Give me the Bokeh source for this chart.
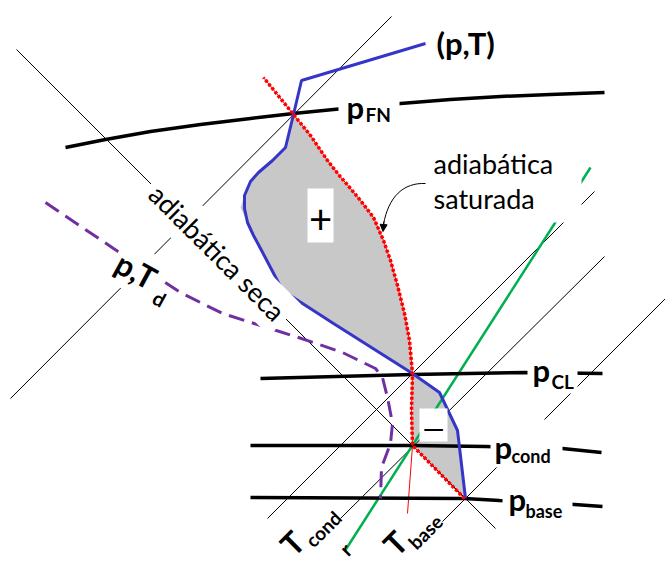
import math
from bokeh.plotting import figure
from bokeh.models import Range1d, Label, Arrow, NormalHead
from bokeh.embed import file_html
from bokeh.resources import INLINE

# ---- schematic data (diagram units = reference pixels, y grows downward) ----
# isobars
pfn_x = [65, 105, 150, 200, 250, 293, 333, 400, 450, 500, 550, 604]
pfn_y = [147, 139, 131, 124, 118, 113, 109, 103, 99, 96, 94, 92]
pcl_x = [260, 412, 524, 602]
pcl_y = [378, 374, 372, 373]
pcond_x = [250, 412, 485, 562, 601]
pcond_y = [445, 445, 446, 448, 452]
pbase_x = [250, 464, 499, 574, 602]
pbase_y = [497, 498, 500, 504, 506]

# isotherms (thin, rising to the right)
isot_xs = [[10, 391], [267, 594], [340, 604], [442, 665]]
isot_ys = [[398, 16], [518, 191], [518, 256], [521, 298]]

# dry adiabat
dry_x = [16, 495]
dry_y = [49, 528]

# saturation mixing ratio line
mix_x = [344, 590]
mix_y = [551, 167]

# environmental sounding (p,T)
env_x = [425, 301, 293, 285, 272, 258, 250, 244, 244, 247, 253, 260, 270, 282, 333, 412, 439, 457, 465]
env_y = [43, 80, 114, 147, 160, 172, 181, 195, 208, 222, 235, 248, 267, 290, 323, 373, 392, 430, 498]

# parcel path: dry from base to condensation, then saturated adiabat upward
parcel_x = [464, 412, 411, 412, 409, 404, 397, 390, 383, 373, 360, 350, 338, 327, 310, 293, 263]
parcel_y = [498, 445, 410, 373, 340, 313, 285, 260, 240, 217, 200, 188, 174, 160, 135, 114, 77]

# continuation of the saturated adiabat below p_cond
sat_low_x = [412, 407]
sat_low_y = [445, 513]

# dew point sounding (p,Td)
dew_x = [45, 113, 180, 222, 260, 298, 342, 375, 382, 387, 392, 390, 381, 380]
dew_y = [202, 248, 292, 313, 325, 337, 352, 368, 377, 397, 423, 443, 467, 498]

# positive area (CAPE) and negative area (CIN)
cape_x = [293, 285, 272, 258, 250, 244, 240, 247, 253, 260, 270, 281, 333, 412,
          409, 404, 397, 390, 383, 373, 360, 350, 338, 327, 310]
cape_y = [114, 147, 160, 172, 181, 195, 207, 222, 235, 248, 267, 292, 323, 373,
          340, 313, 285, 260, 240, 217, 200, 188, 174, 160, 135]
cin_x = [412, 439, 457, 465, 412]
cin_y = [373, 392, 430, 498, 445]

FONT = "Lato"

p = figure(width=665, height=561, x_range=Range1d(0, 665), y_range=Range1d(561, 0),
           output_backend="svg", toolbar_location=None, min_border=0)
p.axis.visible = False
p.grid.visible = False
p.outline_line_color = None
p.background_fill_color = "white"
p.border_fill_color = "white"

# shaded areas
p.patch(cape_x, cape_y, fill_color="#c8c8c8", line_color=None)
p.patch(cin_x, cin_y, fill_color="#c8c8c8", line_color=None)

# thin reference lines
p.multi_line(isot_xs, isot_ys, line_color="black", line_width=1)
p.line(dry_x, dry_y, line_color="black", line_width=1)
p.line(mix_x, mix_y, line_color="#00b050", line_width=2.5)
p.line(sat_low_x, sat_low_y, line_color="red", line_width=1)

# isobars
for xs, ys in [(pfn_x, pfn_y), (pcl_x, pcl_y), (pcond_x, pcond_y), (pbase_x, pbase_y)]:
    p.line(xs, ys, line_color="black", line_width=3.5)

# dew point
p.line(dew_x, dew_y, line_color="#7030a0", line_width=3, line_dash="16 8")

# environment
p.line(env_x, env_y, line_color="#3535c8", line_width=3)

# parcel path
p.line(parcel_x, parcel_y, line_color="red", line_width=1)
p.line(parcel_x, parcel_y, line_color="red", line_width=3.5, line_dash="3 2")

# white boxes behind labels
p.quad(left=[307, 419, 428, 338, 527, 490, 502], right=[333, 447, 581, 399, 577, 562, 572],
       top=[188, 408, 145, 94, 358, 419, 485], bottom=[242, 441, 222, 128, 393, 467, 522],
       fill_color="white", line_color=None)

def lab(x, y, text, size, bold=False, angle=0.0, align="left", baseline="alphabetic", bg=False, pad=0):
    kw = {}
    if bg:
        kw = dict(background_fill_color="white", padding=pad)
    p.add_layout(Label(x=x, y=y, text=text, text_font=FONT, text_font_size=f"{size}px",
                       text_font_style="bold" if bold else "normal", angle=angle,
                       text_align=align, text_baseline=baseline, text_color="black", **kw))

lab(320, 219, "+", 40, align="center", baseline="middle")
lab(433, 427, "—", 28, align="center", baseline="middle")

lab(436, 42, "(p,T)", 31, bold=True)
lab(346, 106, "p", 31, bold=True)
lab(365, 114, "FN", 19, bold=True)
lab(532, 369, "p", 31, bold=True)
lab(551, 381, "CL", 19, bold=True)
lab(494, 446, "p", 31, bold=True)
lab(511, 455, "cond", 18, bold=True)
lab(508, 498, "p", 31, bold=True)
lab(525, 510, "base", 18, bold=True)

lab(433, 163, "adiabática", 27)
lab(433, 198, "saturada", 27)

lab(217, 252, "adiabática seca", 27, angle=-math.pi / 4, align="center", baseline="middle", bg=True, pad=6)
lab(136, 270, "p,T", 31, bold=True, angle=-0.5, align="center", baseline="middle", bg=True, pad=4)
lab(159, 298, "d", 20, bold=True, angle=-0.5, align="center", baseline="middle", bg=True, pad=2)

lab(285, 549, "T", 31, bold=True, angle=math.pi / 4)
lab(308, 543, "cond", 19, bold=True, angle=math.pi / 4)
lab(342, 551, "r", 20, bold=True, angle=math.pi / 4)
lab(388, 549, "T", 31, bold=True, angle=math.pi / 4)
lab(411, 545, "base", 19, bold=True, angle=math.pi / 4)

# curved pointer to the saturated adiabat
p.bezier(x0=[425], y0=[183], x1=[383], y1=[224], cx0=[403], cy0=[182], cx1=[388], cy1=[196],
         line_color="black", line_width=1)
p.add_layout(Arrow(end=NormalHead(size=7, fill_color="black", line_color="black"),
                   x_start=383.4, y_start=221, x_end=382.5, y_end=231,
                   line_color="black", line_width=1))

open("out.html", "w").write(file_html(p, INLINE))
